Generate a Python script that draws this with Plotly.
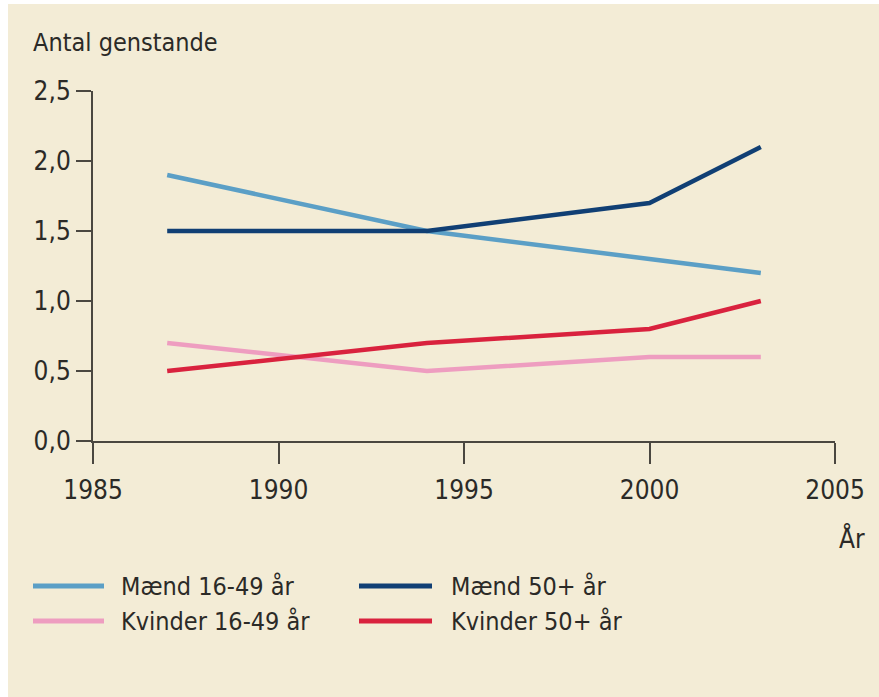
import plotly.graph_objects as go

years = [1987, 1994, 2000, 2003]
maend_16_49 = [1.9, 1.5, 1.3, 1.2]
maend_50 = [1.5, 1.5, 1.7, 2.1]
kvinder_16_49 = [0.7, 0.5, 0.6, 0.6]
kvinder_50 = [0.5, 0.7, 0.8, 1.0]

names = ["Mænd 16-49 år", "Mænd 50+ år", "Kvinder 16-49 år", "Kvinder 50+ år"]
colors = ["#5b9fc6", "#103f74", "#ee9dc0", "#d9223e"]
series = [maend_16_49, maend_50, kvinder_16_49, kvinder_50]

x_ticks = [1985, 1990, 1995, 2000, 2005]
y_ticks = [0.0, 0.5, 1.0, 1.5, 2.0, 2.5]

FONT = "DejaVu Sans Condensed, Liberation Sans Narrow, sans-serif"
BG = "#f3ecd6"
AX = "#4a4740"
TXT = "#2b2a27"

W, H = 879, 697
L, R, T, B = 93, 44, 91, 256
PW, PH = W - L - R, H - T - B


def px(x):
    return (x - L) / PW


def py(y):
    return (H - B - y) / PH


fig = go.Figure()
draw_order = [0, 2, 1, 3]
for i in draw_order:
    fig.add_trace(go.Scatter(x=years, y=series[i], mode="lines", name=names[i],
                             line=dict(color=colors[i], width=4.5),
                             showlegend=False, hoverinfo="x+y+name"))

shapes = [dict(type="rect", xref="paper", yref="paper",
               x0=px(8), x1=px(W + 5), y0=py(H + 5), y1=py(4),
               fillcolor=BG, line=dict(width=0), layer="below")]
annotations = [
    dict(text="Antal genstande", xref="paper", yref="paper", x=px(31), y=py(42),
         xanchor="left", yanchor="middle", showarrow=False,
         font=dict(family=FONT, size=25, color=TXT)),
    dict(text="År", xref="paper", yref="paper", x=px(867), y=py(538),
         xanchor="right", yanchor="middle", showarrow=False,
         font=dict(family=FONT, size=26, color=TXT)),
]

# manual legend in two columns
leg_cols = [(33, 104, 119), (359, 432, 449)]
leg_rows = [586, 621]
for k in range(4):
    col = k % 2
    row = k // 2
    x0, x1, xt = leg_cols[col]
    yy = leg_rows[row]
    shapes.append(dict(type="line", xref="paper", yref="paper",
                       x0=px(x0), x1=px(x1), y0=py(yy), y1=py(yy),
                       line=dict(color=colors[k], width=5)))
    annotations.append(dict(text=names[k], xref="paper", yref="paper",
                            x=px(xt), y=py(yy), xanchor="left", yanchor="middle",
                            showarrow=False,
                            font=dict(family=FONT, size=25, color=TXT)))

fig.update_layout(
    width=W, height=H,
    margin=dict(l=L, r=R, t=T, b=B),
    paper_bgcolor="white", plot_bgcolor="rgba(0,0,0,0)",
    separators=", ",
    font=dict(family=FONT, size=26, color=TXT),
    shapes=shapes, annotations=annotations,
    showlegend=False,
)
fig.update_xaxes(range=[1985, 2005], tickvals=x_ticks, tickformat="d",
                 showgrid=False, zeroline=False, showline=True,
                 linecolor=AX, linewidth=2, ticks="outside", ticklen=21,
                 tickwidth=1.5, tickcolor=AX, ticklabelstandoff=4,
                 tickfont=dict(family=FONT, size=26, color=TXT))
fig.update_yaxes(range=[0, 2.5], tickvals=y_ticks, tickformat=".1f",
                 showgrid=False, zeroline=False, showline=True,
                 linecolor=AX, linewidth=2, ticks="outside", ticklen=15,
                 tickwidth=1.5, tickcolor=AX, ticklabelstandoff=0,
                 tickfont=dict(family=FONT, size=26, color=TXT))

fig.write_html("out.html",
               config={"displayModeBar": False},
               post_script="document.body.style.margin='0px';")
